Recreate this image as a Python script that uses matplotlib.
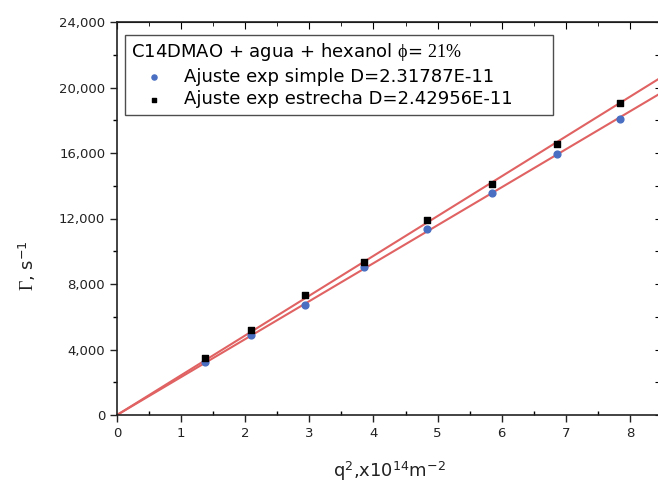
import matplotlib
matplotlib.use('Agg')
import matplotlib.pyplot as plt
import numpy as np
from matplotlib.ticker import MultipleLocator, FuncFormatter

# q^2 (x10^14 m^-2) and decay rates (s^-1)
q2 = [1.38, 2.09, 2.93, 3.85, 4.84, 5.85, 6.86, 7.85]
gamma_simple = [3240, 4890, 6720, 9040, 11360, 13560, 15940, 18080]
gamma_estrecha = [3480, 5190, 7330, 9340, 11910, 14100, 16550, 19050]
D_simple = 2.31787e-11
D_estrecha = 2.42956e-11

plt.rcParams['font.family'] = ['DejaVu Sans']
plt.rcParams['mathtext.fontset'] = 'custom'
plt.rcParams['mathtext.rm'] = 'Liberation Serif'
plt.rcParams['mathtext.it'] = 'Liberation Serif:italic'
plt.rcParams['mathtext.sf'] = 'DejaVu Sans'

fig = plt.figure(figsize=(6.58, 4.82), dpi=100)
ax = fig.add_axes([117/658, 67/482, 545/658, 393/482])

xfit = np.array([0, 8.6])
ax.plot(xfit, D_simple * 1e14 * xfit, color='#e06262', lw=1.5, zorder=2)
ax.plot(xfit, D_estrecha * 1e14 * xfit, color='#e06262', lw=1.5, zorder=2)

ax.scatter(q2, gamma_simple, marker='o', s=24, color='#4a6fc2', zorder=3,
           label='Ajuste exp simple D=2.31787E-11')
ax.scatter(q2, gamma_estrecha, marker='s', s=22, color='black', zorder=4,
           label='Ajuste exp estrecha D=2.42956E-11')

ax.set_xlim(0, 8.5)
ax.set_ylim(0, 24000)
ax.xaxis.set_major_locator(MultipleLocator(1))
ax.xaxis.set_minor_locator(MultipleLocator(0.5))
ax.yaxis.set_major_locator(MultipleLocator(4000))
ax.yaxis.set_minor_locator(MultipleLocator(2000))
ax.yaxis.set_major_formatter(FuncFormatter(lambda v, p: f'{v:,.0f}'))

ax.tick_params(axis='both', which='major', direction='out', length=5, width=1,
               labelsize=9.5, colors='#222222', top=False, right=False)
ax.tick_params(axis='x', which='minor', direction='in', length=3, width=1)
ax.tick_params(axis='y', which='minor', direction='out', length=3, width=1)

# mirrored ticks on top and right, pointing inward
top = ax.secondary_xaxis('top')
top.xaxis.set_major_locator(MultipleLocator(1))
top.xaxis.set_minor_locator(MultipleLocator(0.5))
top.tick_params(which='major', direction='in', length=5, labeltop=False)
top.tick_params(which='minor', direction='in', length=3)
right = ax.secondary_yaxis('right')
right.yaxis.set_major_locator(MultipleLocator(2000))
right.tick_params(which='major', direction='in', length=5, labelright=False)

for s in ax.spines.values():
    s.set_linewidth(1.2)
    s.set_color('#222222')

ax.set_xlabel(r'q$^{\mathsf{2}}$,x10$^{\mathsf{14}}$m$^{\mathsf{-2}}$', fontsize=13,
              color='#222222', labelpad=14)
ax.set_ylabel(r'$\Gamma$, s$^{\mathsf{-1}}$', fontsize=13, color='#222222')
ax.yaxis.set_label_coords(-0.145, 0.38)

title = 'C14DMAO + agua + hexanol $\\mathrm{ϕ}$= $\\mathrm{21\\%}$'
leg = ax.legend(title=title, loc='upper left',
                bbox_to_anchor=(0.0147, 0.72, 0.785, 0.247), mode='expand',
                fontsize=13, title_fontsize=13, frameon=True, fancybox=False,
                handletextpad=0.4, borderpad=0.35, labelspacing=0.25,
                handlelength=2.5, borderaxespad=0, markerscale=0.75)
leg.get_frame().set_edgecolor('#222222')
leg.get_frame().set_linewidth(1.0)
leg._legend_box.align = 'left'

plt.savefig('out.png', dpi=100)
